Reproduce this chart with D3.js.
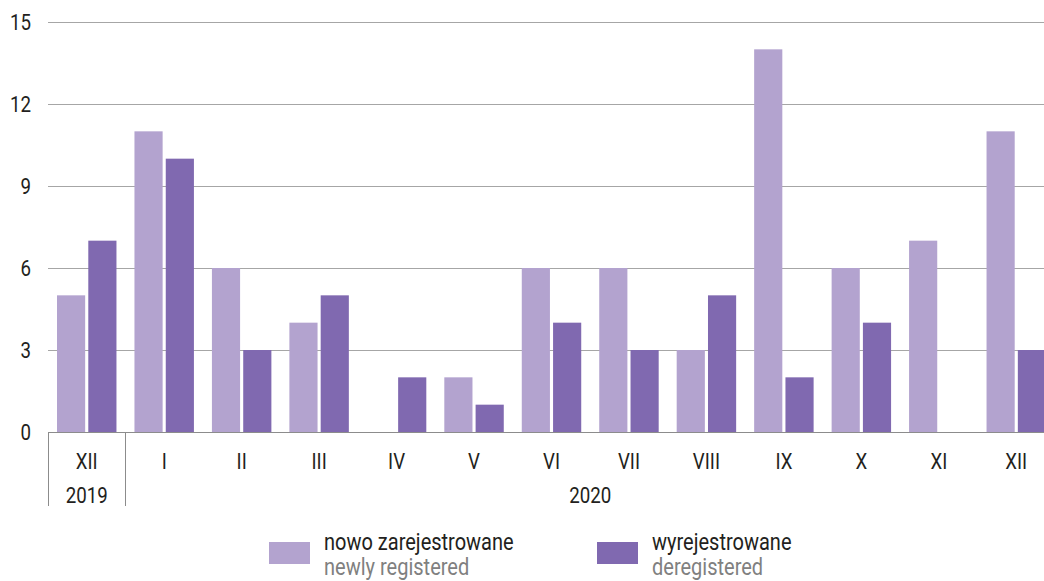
<!DOCTYPE html>
<html lang="pl">
<head>
<meta charset="UTF-8">
<title>Rejestracje</title>
<script src="https://cdn.jsdelivr.net/npm/d3@7"></script>
<style>
    body, html {
        margin: 0;
        padding: 0;
        background: #fff;
    }
    svg {
        display: block;
        font-family: "Roboto", "Liberation Sans", sans-serif;
    }
</style>
</head>
<body>
<div id="chart"></div>
<script>
    const months = ["XII", "I", "II", "III", "IV", "V", "VI", "VII", "VIII", "IX", "X", "XI", "XII"];
    const newlyRegistered = [5, 11, 6, 4, 0, 2, 6, 6, 3, 14, 6, 7, 11];
    const deregistered = [7, 10, 3, 5, 2, 1, 4, 3, 5, 2, 4, 0, 3];
    const yTicks = [0, 3, 6, 9, 12, 15];

    const W = 1044, H = 581;
    const plot = { left: 48, right: 1055, top: 22, bottom: 432 };

    const svg = d3.select("#chart").append("svg")
        .attr("width", W)
        .attr("height", H);

    // condensed-looking text: scale glyphs horizontally
    function label(parent, x, y, txt, opts = {}) {
        const sx = opts.sx || 0.85;
        return parent.append("text")
            .attr("transform", `translate(${x},${y}) scale(${sx},1)`)
            .attr("text-anchor", opts.anchor || "middle")
            .attr("font-size", opts.size || 22)
            .attr("fill", opts.fill || "#231f20")
            .text(txt);
    }

    const keys = months.map((m, i) => i);
    const x = d3.scaleBand().domain(keys).range([plot.left, plot.right]).paddingInner(0).paddingOuter(0);
    const inner = d3.scaleBand().domain(["new", "de"]).range([9, x.bandwidth() - 9]).paddingInner(0.1);
    const y = d3.scaleLinear().domain([0, 15]).range([plot.bottom, plot.top]);

    // gridlines
    svg.append("g")
        .selectAll("line")
        .data(yTicks.filter(t => t > 0))
        .join("line")
        .attr("x1", plot.left).attr("x2", W)
        .attr("y1", d => y(d) + 0.5).attr("y2", d => y(d) + 0.5)
        .attr("stroke", "#a6a6a6")
        .attr("stroke-width", 1);

    // y labels
    const yl = svg.append("g");
    yTicks.forEach(t => label(yl, 31, y(t) + 8, t, { anchor: "end" }));

    const colors = { new: "#b3a3cf", de: "#8069b0" };

    const groups = svg.append("g")
        .selectAll("g")
        .data(keys)
        .join("g")
        .attr("transform", i => `translate(${x(i)},0)`);

    groups.append("rect")
        .attr("x", inner("new"))
        .attr("width", inner.bandwidth())
        .attr("y", i => y(newlyRegistered[i]))
        .attr("height", i => plot.bottom - y(newlyRegistered[i]))
        .attr("fill", colors.new);

    groups.append("rect")
        .attr("x", inner("de"))
        .attr("width", inner.bandwidth())
        .attr("y", i => y(deregistered[i]))
        .attr("height", i => plot.bottom - y(deregistered[i]))
        .attr("fill", colors.de);

    // baseline
    svg.append("line")
        .attr("x1", plot.left).attr("x2", W)
        .attr("y1", plot.bottom + 0.5).attr("y2", plot.bottom + 0.5)
        .attr("stroke", "#8c8c8c")
        .attr("stroke-width", 1);

    // year dividers
    const divX = [plot.left, x(1)];
    svg.append("g")
        .selectAll("line")
        .data(divX)
        .join("line")
        .attr("x1", d => Math.round(d) + 0.5).attr("x2", d => Math.round(d) + 0.5)
        .attr("y1", plot.bottom).attr("y2", 506)
        .attr("stroke", "#8c8c8c")
        .attr("stroke-width", 1);

    // month labels
    const ml = svg.append("g");
    keys.forEach(i => label(ml, x(i) + x.bandwidth() / 2, 469, months[i]));

    // year labels
    label(svg, x(0) + x.bandwidth() / 2, 503, "2019");
    label(svg, (x(1) + plot.right) / 2, 503, "2020");

    // legend
    const legend = [
        { key: "new", pl: "nowo zarejestrowane", en: "newly registered", x: 269 },
        { key: "de", pl: "wyrejestrowane", en: "deregistered", x: 597 }
    ];
    legend.forEach(d => {
        const g = svg.append("g").attr("transform", `translate(${d.x},0)`);
        g.append("rect")
            .attr("x", 0).attr("y", 542)
            .attr("width", 41).attr("height", 22)
            .attr("fill", colors[d.key]);
        label(g, 55, 550, d.pl, { anchor: "start", size: 23, sx: 0.87 });
        label(g, 55, 575, d.en, { anchor: "start", size: 23, sx: 0.87, fill: "#808080" });
    });
</script>
</body>
</html>
